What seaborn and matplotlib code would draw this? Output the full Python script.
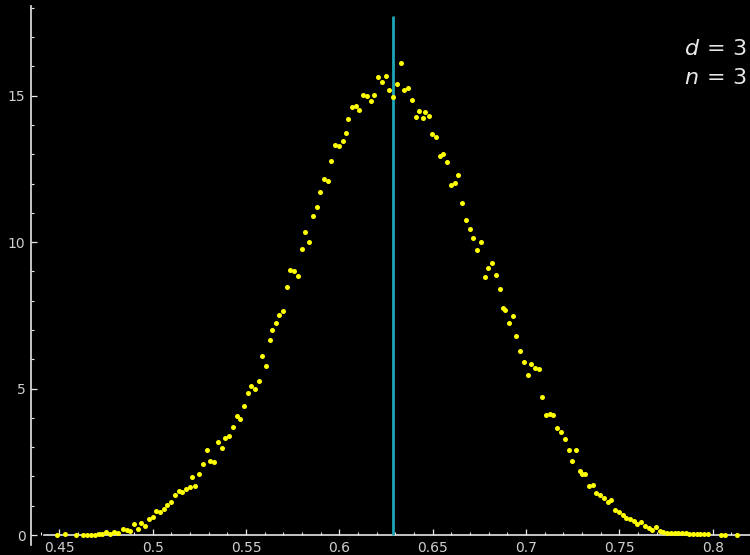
import numpy as np
import pandas as pd
import matplotlib
matplotlib.use("Agg")
import matplotlib.pyplot as plt
import seaborn as sns
from matplotlib.ticker import MultipleLocator, FixedLocator

# ---- data ----
x_vals = [
    0.4489, 0.4531, 0.4589, 0.4629, 0.4650, 0.4670, 0.4690, 0.4711, 0.4730, 0.4750,
    0.4772, 0.4793, 0.4816, 0.4840, 0.4861, 0.4880, 0.4900, 0.4920, 0.4939, 0.4961,
    0.4981, 0.5000, 0.5020, 0.5039, 0.5059, 0.5079, 0.5098, 0.5120, 0.5140, 0.5159,
    0.5179, 0.5199, 0.5209, 0.5229, 0.5248, 0.5270, 0.5290, 0.5309, 0.5329, 0.5349,
    0.5370, 0.5389, 0.5409, 0.5429, 0.5450, 0.5470, 0.5489, 0.5509, 0.5529, 0.5548,
    0.5568, 0.5587, 0.5609, 0.5629, 0.5639, 0.5659, 0.5679, 0.5698, 0.5718, 0.5737,
    0.5759, 0.5779, 0.5799, 0.5818, 0.5838, 0.5859, 0.5879, 0.5898, 0.5918, 0.5938,
    0.5957, 0.5979, 0.5998, 0.6018, 0.6037, 0.6048, 0.6068, 0.6088, 0.6107, 0.6129,
    0.6148, 0.6168, 0.6187, 0.6209, 0.6229, 0.6248, 0.6268, 0.6288, 0.6309, 0.6329,
    0.6348, 0.6368, 0.6388, 0.6409, 0.6429, 0.6448, 0.6459, 0.6479, 0.6498, 0.6518,
    0.6538, 0.6557, 0.6577, 0.6598, 0.6618, 0.6637, 0.6659, 0.6679, 0.6698, 0.6718,
    0.6738, 0.6759, 0.6779, 0.6798, 0.6818, 0.6839, 0.6859, 0.6878, 0.6889, 0.6909,
    0.6929, 0.6948, 0.6968, 0.6989, 0.7009, 0.7029, 0.7048, 0.7068, 0.7087, 0.7107,
    0.7127, 0.7146, 0.7168, 0.7188, 0.7207, 0.7229, 0.7248, 0.7268, 0.7288, 0.7299,
    0.7318, 0.7338, 0.7357, 0.7377, 0.7397, 0.7418, 0.7438, 0.7457, 0.7477, 0.7497,
    0.7518, 0.7537, 0.7557, 0.7577, 0.7596, 0.7616, 0.7638, 0.7657, 0.7677, 0.7697,
    0.7716, 0.7736, 0.7756, 0.7777, 0.7797, 0.7816, 0.7836, 0.7856, 0.7875, 0.7895,
    0.7915, 0.7934, 0.7954, 0.7974, 0.8046, 0.8068, 0.8129,
]
density = [
    0.01, 0.02, 0.01, 0.01, 0.01, 0.00, 0.01, 0.04, 0.04, 0.09,
    0.04, 0.10, 0.07, 0.22, 0.17, 0.15, 0.38, 0.20, 0.42, 0.32,
    0.56, 0.60, 0.81, 0.79, 0.89, 1.01, 1.13, 1.37, 1.49, 1.48,
    1.56, 1.64, 1.99, 1.67, 2.09, 2.41, 2.89, 2.52, 2.48, 3.16,
    2.98, 3.31, 3.38, 3.68, 4.06, 3.95, 4.41, 4.85, 5.09, 4.97,
    5.26, 6.11, 5.76, 6.67, 7.00, 7.23, 7.52, 7.66, 8.47, 9.05,
    9.02, 8.84, 9.75, 10.33, 10.01, 10.88, 11.21, 11.70, 12.15, 12.09,
    12.76, 13.32, 13.29, 13.45, 13.74, 14.21, 14.62, 14.66, 14.51, 15.02,
    14.99, 14.83, 15.02, 15.65, 15.47, 15.68, 15.18, 14.95, 15.41, 16.11,
    15.19, 15.27, 14.85, 14.27, 14.49, 14.24, 14.43, 14.30, 13.70, 13.60,
    12.95, 13.00, 12.73, 11.96, 12.01, 12.28, 11.33, 10.75, 10.44, 10.14,
    9.72, 10.00, 8.82, 9.12, 9.29, 8.88, 8.39, 7.75, 7.69, 7.25,
    7.47, 6.78, 6.28, 5.90, 5.46, 5.85, 5.69, 5.67, 4.71, 4.10,
    4.13, 4.11, 3.65, 3.53, 3.27, 2.90, 2.54, 2.91, 2.20, 2.09,
    2.09, 1.67, 1.72, 1.43, 1.36, 1.25, 1.13, 1.18, 0.86, 0.80,
    0.68, 0.58, 0.54, 0.47, 0.39, 0.44, 0.32, 0.25, 0.18, 0.27,
    0.15, 0.10, 0.07, 0.07, 0.07, 0.08, 0.08, 0.06, 0.03, 0.03,
    0.04, 0.03, 0.02, 0.02, 0.01, 0.01, 0.00,
]
mean_value = 0.6286
mean_line_top = 17.72
x_ticks = [0.45, 0.5, 0.55, 0.6, 0.65, 0.7, 0.75, 0.8]
x_tick_labels = ["0.45", "0.5", "0.55", "0.6", "0.65", "0.7", "0.75", "0.8"]
y_ticks = [0, 5, 10, 15]
y_tick_labels = ["0", "5", "10", "15"]
annotations = [r"$d\,=\,3$", r"$n\,=\,3$"]

df = pd.DataFrame({"x": x_vals, "density": density})

# ---- figure ----
fig = plt.figure(figsize=(7.5, 5.55), dpi=100, facecolor="black")
ax = fig.add_axes([31 / 750, 10 / 555, 719 / 750, 539 / 555])
ax.set_facecolor("black")

axis_col = "#e6e6e6"
label_col = "#cfcfcf"

sns.scatterplot(data=df, x="x", y="density", ax=ax, color="#ffff00",
                s=13, linewidth=0, zorder=4, clip_on=False, legend=False)

ax.vlines(mean_value, 0, mean_line_top, color="#1fa6b6", linewidth=2.0, zorder=3)

ax.set_xlim(0.4348, 0.8200)
ax.set_ylim(-0.341, 18.06)

for s in ["top", "right"]:
    ax.spines[s].set_visible(False)
ax.spines["bottom"].set_position(("data", 0))
ax.spines["bottom"].set_bounds(0.4420, 0.8200)
ax.spines["left"].set_bounds(-0.341, 18.06)
for s in ["bottom", "left"]:
    ax.spines[s].set_color(axis_col)
    ax.spines[s].set_linewidth(1.2)

ax.xaxis.set_major_locator(FixedLocator(x_ticks))
ax.set_xticklabels(x_tick_labels)
ax.xaxis.set_minor_locator(MultipleLocator(0.01))
ax.yaxis.set_major_locator(FixedLocator(y_ticks))
ax.set_yticklabels(y_tick_labels)
ax.yaxis.set_minor_locator(MultipleLocator(1))

ax.tick_params(axis="both", which="major", direction="in", length=4,
               width=0.9, color=axis_col, labelcolor=label_col,
               labelsize=10, pad=4)
ax.tick_params(axis="both", which="minor", direction="in", length=2.3,
               width=0.8, color=axis_col)

ax.set_xlabel("")
ax.set_ylabel("")

fig.text(747 / 750, 1 - 55 / 555, annotations[0], ha="right", va="baseline",
         fontsize=16, color="#e8e8e8")
fig.text(747 / 750, 1 - 84 / 555, annotations[1], ha="right", va="baseline",
         fontsize=16, color="#e8e8e8")

fig.savefig("out.png", dpi=100, facecolor="black")
